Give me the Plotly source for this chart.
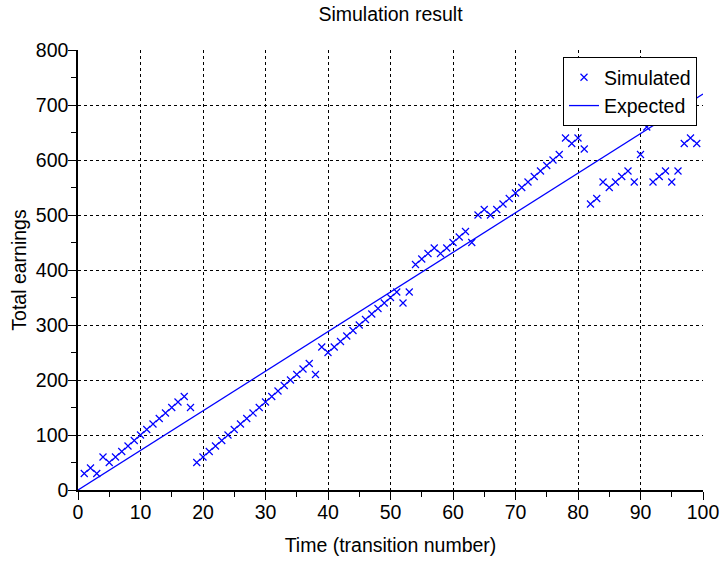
import plotly.graph_objects as go

# Data
time_steps = list(range(1, 100))
simulated = [30, 40, 30, 60, 50, 60, 70, 80, 90, 100,
             110, 120, 130, 140, 150, 160, 170, 150, 50, 60,
             70, 80, 90, 100, 110, 120, 130, 140, 150, 160,
             170, 180, 190, 200, 210, 220, 230, 210, 260, 250,
             260, 270, 280, 290, 300, 310, 320, 330, 340, 350,
             360, 340, 360, 410, 420, 430, 440, 430, 440, 450,
             460, 470, 450, 500, 510, 500, 510, 520, 530, 540,
             550, 560, 570, 580, 590, 600, 610, 640, 630, 640,
             620, 520, 530, 560, 550, 560, 570, 580, 560, 610,
             660, 560, 570, 580, 560, 580, 630, 640, 630]
expected_time = [0, 100]
expected_values = [0, 720]

x_ticks = [0, 10, 20, 30, 40, 50, 60, 70, 80, 90, 100]
y_ticks = [0, 100, 200, 300, 400, 500, 600, 700, 800]

FONT = "Liberation Sans, Arial, sans-serif"
FS = 19.5
BLUE = "#0000ff"

fig = go.Figure()
fig.add_trace(go.Scatter(
    x=time_steps, y=simulated, mode="markers", name="Simulated",
    marker=dict(symbol="x-thin-open", size=7, color=BLUE,
                line=dict(color=BLUE, width=1.2)),
))
fig.add_trace(go.Scatter(
    x=expected_time, y=expected_values, mode="lines", name="Expected",
    line=dict(color=BLUE, width=1.3),
))

axis_common = dict(
    showgrid=True, gridcolor="black", gridwidth=1, griddash="3px,3px",
    zeroline=False, showline=True, linecolor="black", linewidth=1.5,
    ticks="outside", ticklen=8, tickcolor="black", tickwidth=1,
    tickfont=dict(family=FONT, size=FS, color="black"),
    mirror=False,
)

fig.update_xaxes(
    range=[0, 100], tickvals=x_ticks, ticktext=[str(v) for v in x_ticks],
    minor=dict(dtick=5, ticklen=5, tickcolor="black", ticks="outside", showgrid=False),
    ticklabelstandoff=-4,
    title=dict(text="Time (transition number)", font=dict(family=FONT, size=FS, color="black"),
               standoff=16),
    **axis_common,
)
fig.update_yaxes(
    range=[0, 800], tickvals=y_ticks, ticktext=[str(v) for v in y_ticks],
    minor=dict(dtick=50, ticklen=5, tickcolor="black", ticks="outside", showgrid=False),
    ticklabelstandoff=-4,
    title=dict(text="Total earnings", font=dict(family=FONT, size=FS, color="black"),
               standoff=4),
    **axis_common,
)

fig.update_layout(
    width=724, height=563,
    margin=dict(l=78, r=21, t=50, b=73, autoexpand=False),
    paper_bgcolor="white", plot_bgcolor="white",
    title=dict(text="Simulation result", x=0.5, xref="paper", xanchor="center",
               y=1 - 14 / 563, yref="container", yanchor="middle",
               font=dict(family=FONT, size=FS, color="black")),
    legend=dict(x=0.9904, y=0.984, xanchor="right", yanchor="top",
                bgcolor="white", bordercolor="black", borderwidth=1,
                font=dict(family=FONT, size=FS, color="black"),
                tracegroupgap=0),
    showlegend=True,
)

fig.write_html("out.html", config={"displayModeBar": False},
               post_script="document.body.style.margin='0';")
